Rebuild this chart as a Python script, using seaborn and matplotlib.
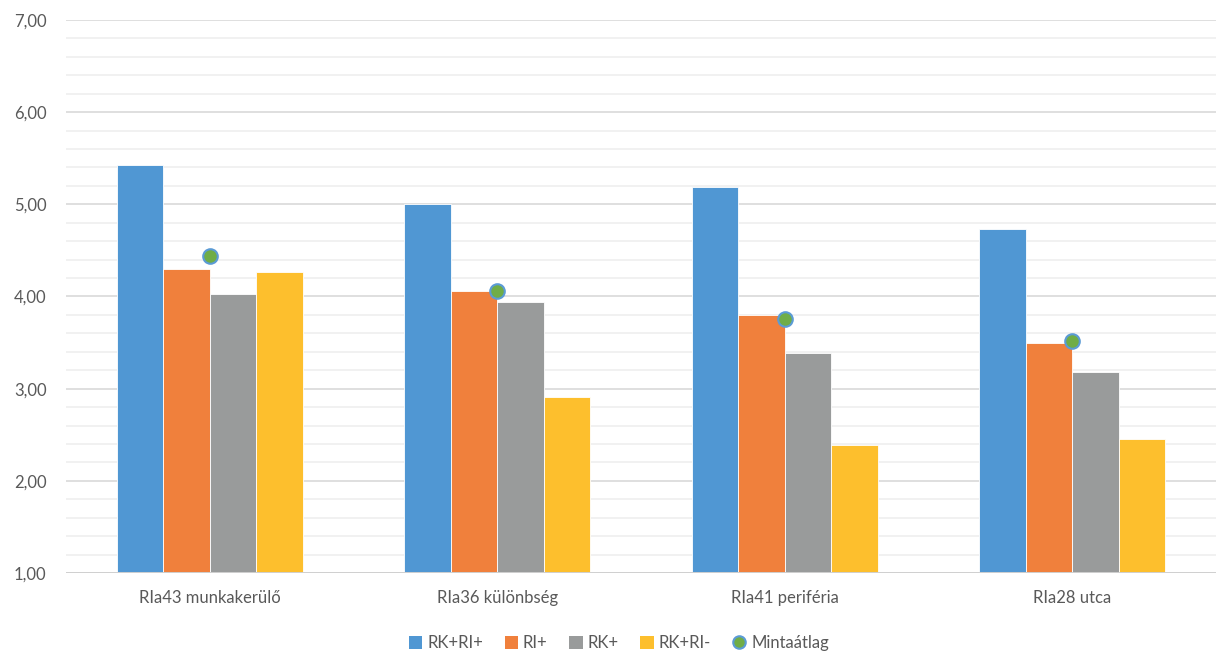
import numpy as np
import pandas as pd
import matplotlib
matplotlib.use("Agg")
import matplotlib.pyplot as plt
from matplotlib.ticker import MultipleLocator, FuncFormatter
from matplotlib.lines import Line2D
from matplotlib.patches import Patch
import seaborn as sns

# data
categories = ["RIa43 munkakerülő", "RIa36 különbség", "RIa41 periféria", "RIa28 utca"]
series = ["RK+RI+", "RI+", "RK+", "RK+RI-"]
rk_ri_plus = [5.43, 5.00, 5.19, 4.73]
ri_plus = [4.30, 4.06, 3.80, 3.50]
rk_plus = [4.03, 3.94, 3.39, 3.18]
rk_ri_minus = [4.27, 2.91, 2.39, 2.45]
mintaatlag = [4.44, 4.06, 3.76, 3.52]

colors = ["#5097D3", "#F0803C", "#999B9B", "#FDBF2D"]

df = pd.DataFrame({
    "kategoria": categories * 4,
    "sorozat": np.repeat(series, len(categories)),
    "ertek": rk_ri_plus + ri_plus + rk_plus + rk_ri_minus,
})
df_avg = pd.DataFrame({"kategoria": categories, "ertek": mintaatlag})

sns.set_style("white")
plt.rcParams["font.family"] = ["Lato", "DejaVu Sans"]

fig = plt.figure(figsize=(12.18, 6.55), dpi=100)
ax = fig.add_axes([0.0542, 0.1252, 0.9442, 0.8443])

ymin = 1.0
sns.barplot(data=df, x="kategoria", y="ertek", hue="sorozat",
            palette=colors, saturation=1, width=0.646, ax=ax,
            edgecolor="white", linewidth=0.6, legend=False)
for p in ax.patches:
    p.set_zorder(3)

sns.scatterplot(data=df_avg, x="kategoria", y="ertek", ax=ax, s=110,
                color="#70AD47", edgecolor="#5B9BD5", linewidth=1.5,
                zorder=5, legend=False)

ax.set_ylim(ymin, 7.0)
ax.set_xlim(-0.5, len(categories) - 0.5)
ax.yaxis.set_major_locator(MultipleLocator(1.0))
ax.yaxis.set_minor_locator(MultipleLocator(0.2))
ax.yaxis.set_major_formatter(FuncFormatter(lambda v, _: f"{v:.2f}".replace(".", ",")))
ax.grid(which="major", axis="y", color="#D9D9D9", linewidth=1.2, zorder=0)
ax.grid(which="minor", axis="y", color="#EFEFEF", linewidth=1.2, zorder=0)
ax.set_axisbelow(True)
for s in ax.spines.values():
    s.set_visible(False)
ax.axhline(ymin, color="#D0D0D0", linewidth=1.4, zorder=4)
ax.tick_params(axis="both", which="both", length=0, colors="#595959", labelsize=12)
ax.tick_params(axis="y", pad=14)
ax.tick_params(axis="x", pad=12)
ax.set_xlabel("")
ax.set_ylabel("")

handles = [Patch(facecolor=c, edgecolor="none", label=s) for s, c in zip(series, colors)]
handles.append(Line2D([], [], marker="o", linestyle="none", markersize=9,
                      markerfacecolor="#70AD47", markeredgecolor="#5B9BD5",
                      markeredgewidth=1.5, label="Mintaátlag"))
fig.legend(handles=handles, loc="center", bbox_to_anchor=(0.508, 0.018),
           ncol=5, frameon=False, fontsize=12, handlelength=0.8, handleheight=0.8,
           handletextpad=0.3, columnspacing=1.3, labelcolor="#595959")

fig.savefig("out.png", dpi=100)
